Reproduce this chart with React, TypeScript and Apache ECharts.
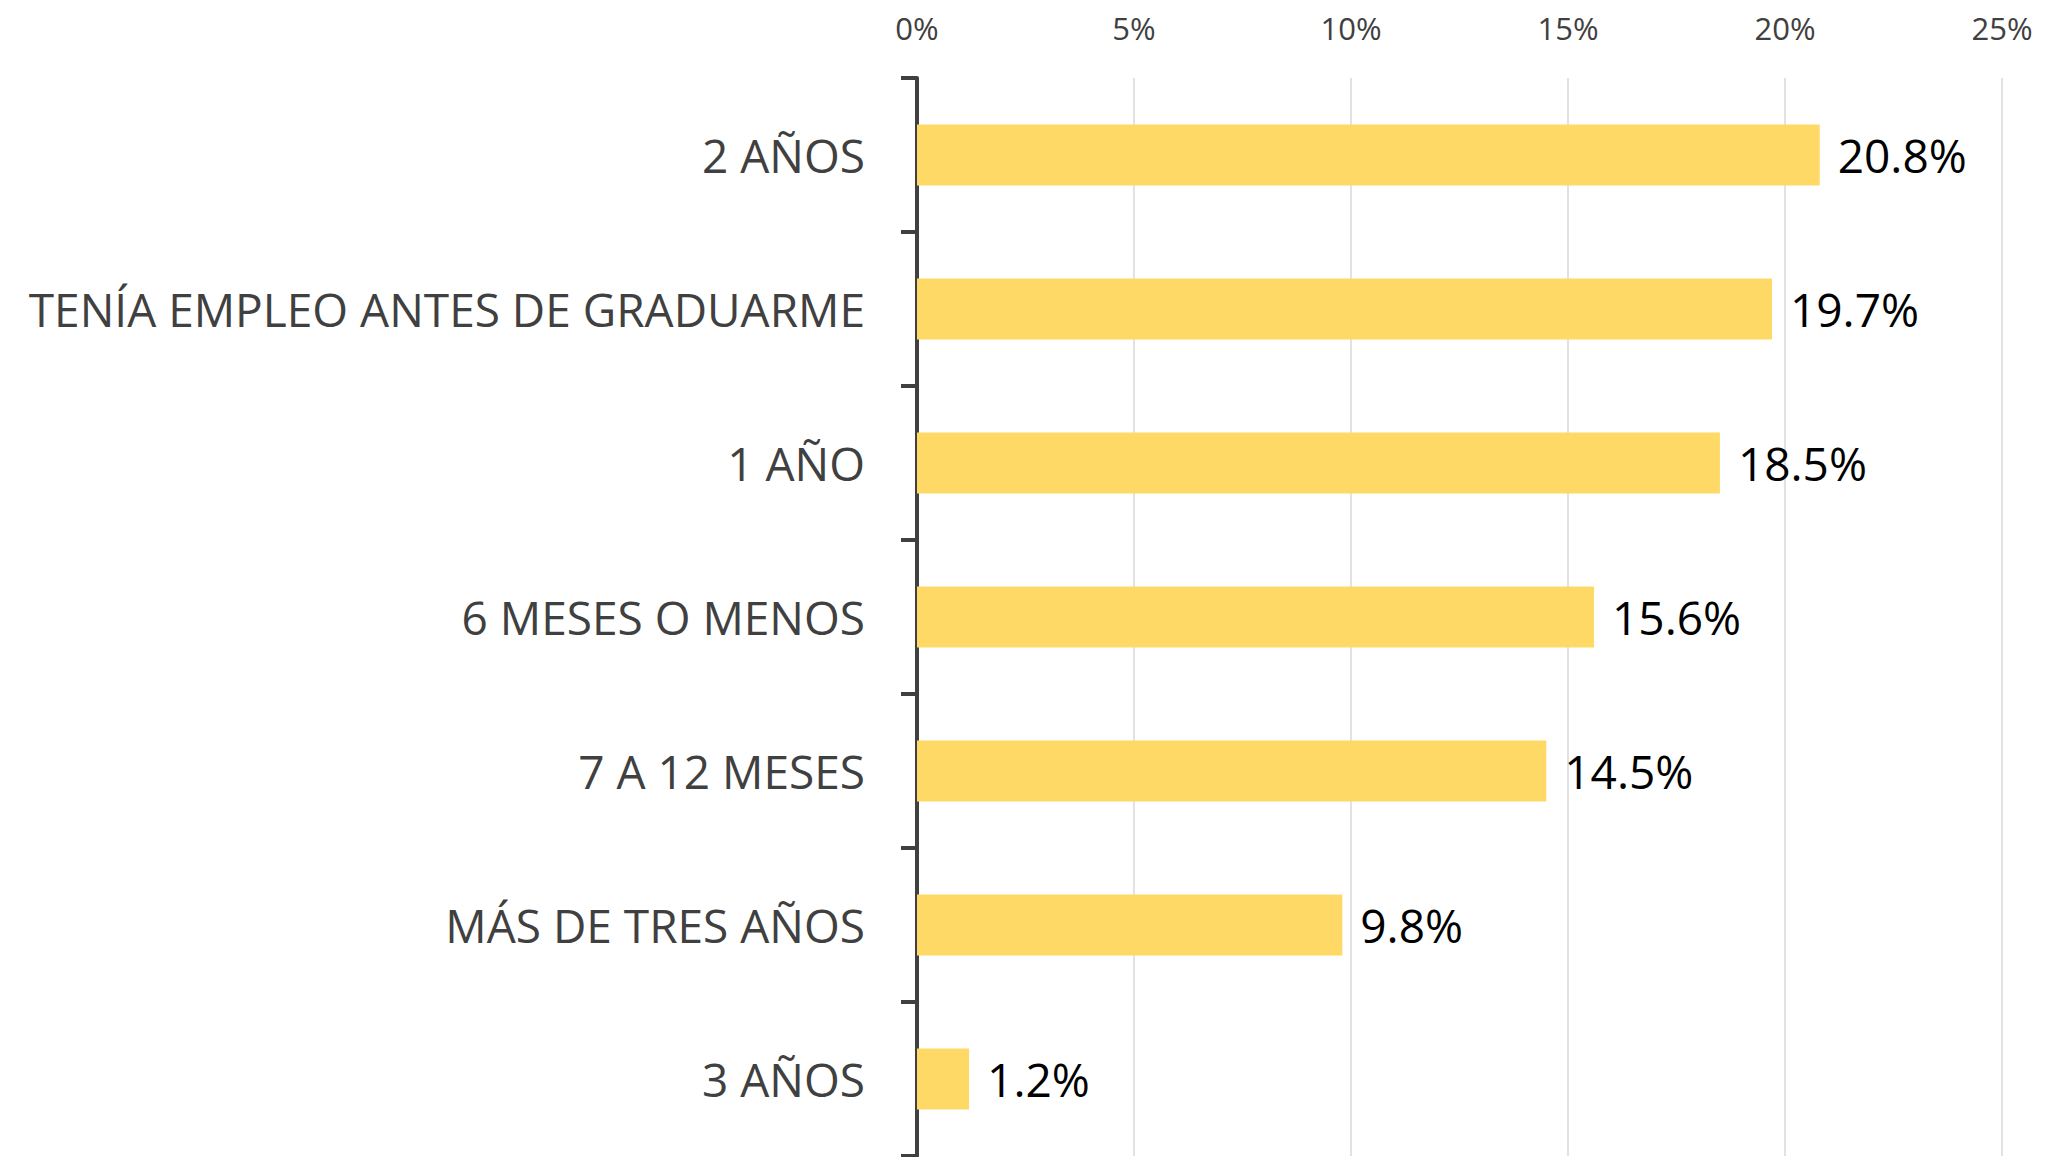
import React, { useEffect, useRef } from "react";
import * as echarts from "echarts";

const categories = [
  "2 AÑOS",
  "TENÍA EMPLEO ANTES DE GRADUARME",
  "1 AÑO",
  "6 MESES O MENOS",
  "7 A 12 MESES",
  "MÁS DE TRES AÑOS",
  "3 AÑOS",
];
const values = [20.8, 19.7, 18.5, 15.6, 14.5, 9.8, 1.2];
const axisMax = 25;
const axisInterval = 5;

export default function App() {
  const ref = useRef<HTMLDivElement>(null);
  useEffect(() => {
    if (!ref.current) return;
    const chart = echarts.init(ref.current, undefined, { renderer: "svg" });
    const font = "'Open Sans', 'Liberation Sans', sans-serif";
    chart.setOption({
      animation: false,
      backgroundColor: "#ffffff",
      grid: { left: 917, right: 47, top: 78, bottom: 1, containLabel: false },
      xAxis: {
        type: "value",
        position: "top",
        min: 0,
        max: axisMax,
        interval: axisInterval,
        axisLine: { show: false },
        axisTick: { show: false },
        splitLine: { show: true, lineStyle: { color: "#d9d9d9", width: 1.5 } },
        axisLabel: {
          formatter: "{value}%",
          color: "#404040",
          fontFamily: font,
          fontSize: 31,
          margin: 35,
        },
      },
      yAxis: {
        type: "category",
        inverse: true,
        data: categories,
        axisLine: { show: true, lineStyle: { color: "#404040", width: 4 } },
        axisTick: { show: true, length: 16, lineStyle: { color: "#404040", width: 4 } },
        axisLabel: {
          color: "#404040",
          fontFamily: font,
          fontSize: 46,
          margin: 52,
        },
      },
      series: [
        {
          type: "bar",
          data: values,
          barWidth: 61,
          itemStyle: { color: "#FFD966" },
          label: {
            show: true,
            position: "right",
            distance: 18,
            formatter: (p: any) => p.value.toFixed(1) + "%",
            color: "#000000",
            fontFamily: font,
            fontSize: 46,
          },
        },
      ],
    });
    return () => chart.dispose();
  }, []);
  return (
    <div
      ref={ref}
      style={{ position: "fixed", left: 0, top: 0, width: 2049, height: 1157 }}
    />
  );
}
